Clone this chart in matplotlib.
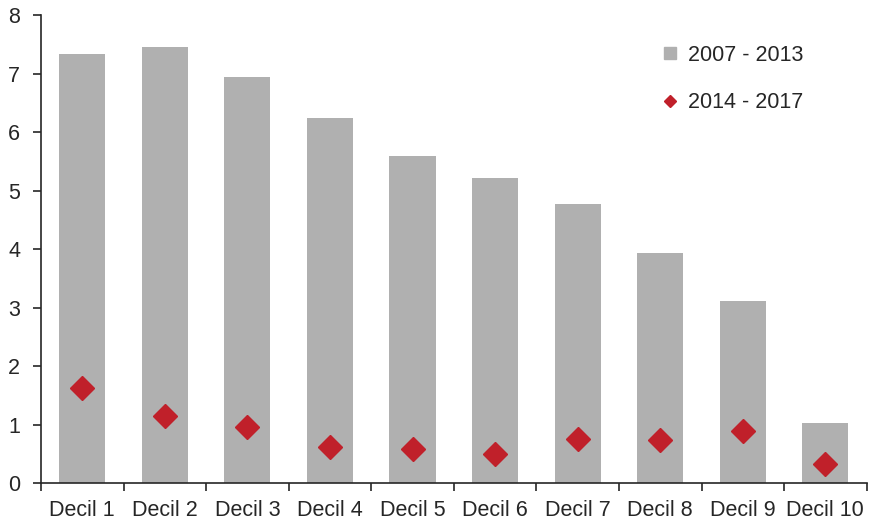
import matplotlib
matplotlib.use("Agg")
import matplotlib.pyplot as plt
from matplotlib.lines import Line2D

# datos
deciles = ["Decil 1", "Decil 2", "Decil 3", "Decil 4", "Decil 5",
           "Decil 6", "Decil 7", "Decil 8", "Decil 9", "Decil 10"]
valores_2007_2013 = [7.33, 7.45, 6.95, 6.25, 5.60, 5.22, 4.78, 3.94, 3.12, 1.03]
valores_2014_2017 = [1.62, 1.15, 0.96, 0.61, 0.58, 0.49, 0.75, 0.74, 0.89, 0.32]
etiquetas_y = [0, 1, 2, 3, 4, 5, 6, 7, 8]

gris = "#b0b0b0"
rojo = "#c0202a"
texto = "#262626"

plt.rcParams["font.family"] = ["Liberation Sans", "DejaVu Sans"]
plt.rcParams["font.size"] = 15.5

fig = plt.figure(figsize=(8.71, 5.25), dpi=100)
ax = fig.add_axes([0.047, 0.08, 0.948, 0.891])

x = list(range(len(deciles)))
ax.bar(x, valores_2007_2013, width=0.56, color=gris, zorder=2)
ax.plot(x, valores_2014_2017, linestyle="none", marker="D", markersize=12,
        color=rojo, zorder=3)

ax.set_xlim(-0.5, len(deciles) - 0.5)
ax.set_ylim(0, 8)
ax.set_yticks(etiquetas_y)
ax.set_yticklabels([str(v) for v in etiquetas_y], color=texto)

# ticks entre categorias, etiquetas en el centro
ax.set_xticks([i - 0.5 for i in range(len(deciles) + 1)])
ax.set_xticklabels([])
ax.set_xticks(x, minor=True)
ax.set_xticklabels(deciles, minor=True, color=texto)
ax.tick_params(axis="x", which="minor", length=0, pad=12)
ax.tick_params(axis="x", which="major", length=6, width=1.2, color=texto, direction="out")
ax.tick_params(axis="y", length=6, width=1.2, color=texto, direction="out", pad=9)

for lado in ["top", "right"]:
    ax.spines[lado].set_visible(False)
for lado in ["left", "bottom"]:
    ax.spines[lado].set_color(texto)
    ax.spines[lado].set_linewidth(1.2)

handles = [
    Line2D([], [], linestyle="none", marker="s", markersize=9, color=gris),
    Line2D([], [], linestyle="none", marker="D", markersize=6.5, color=rojo),
]
leg = fig.legend(handles, ["2007 - 2013", "2014 - 2017"], loc="upper left",
                 bbox_to_anchor=(0.74, 0.952), frameon=False, labelspacing=1.25,
                 handlelength=0.6, handletextpad=0.5)
for t in leg.get_texts():
    t.set_color(texto)

fig.savefig("out.png", dpi=100)
